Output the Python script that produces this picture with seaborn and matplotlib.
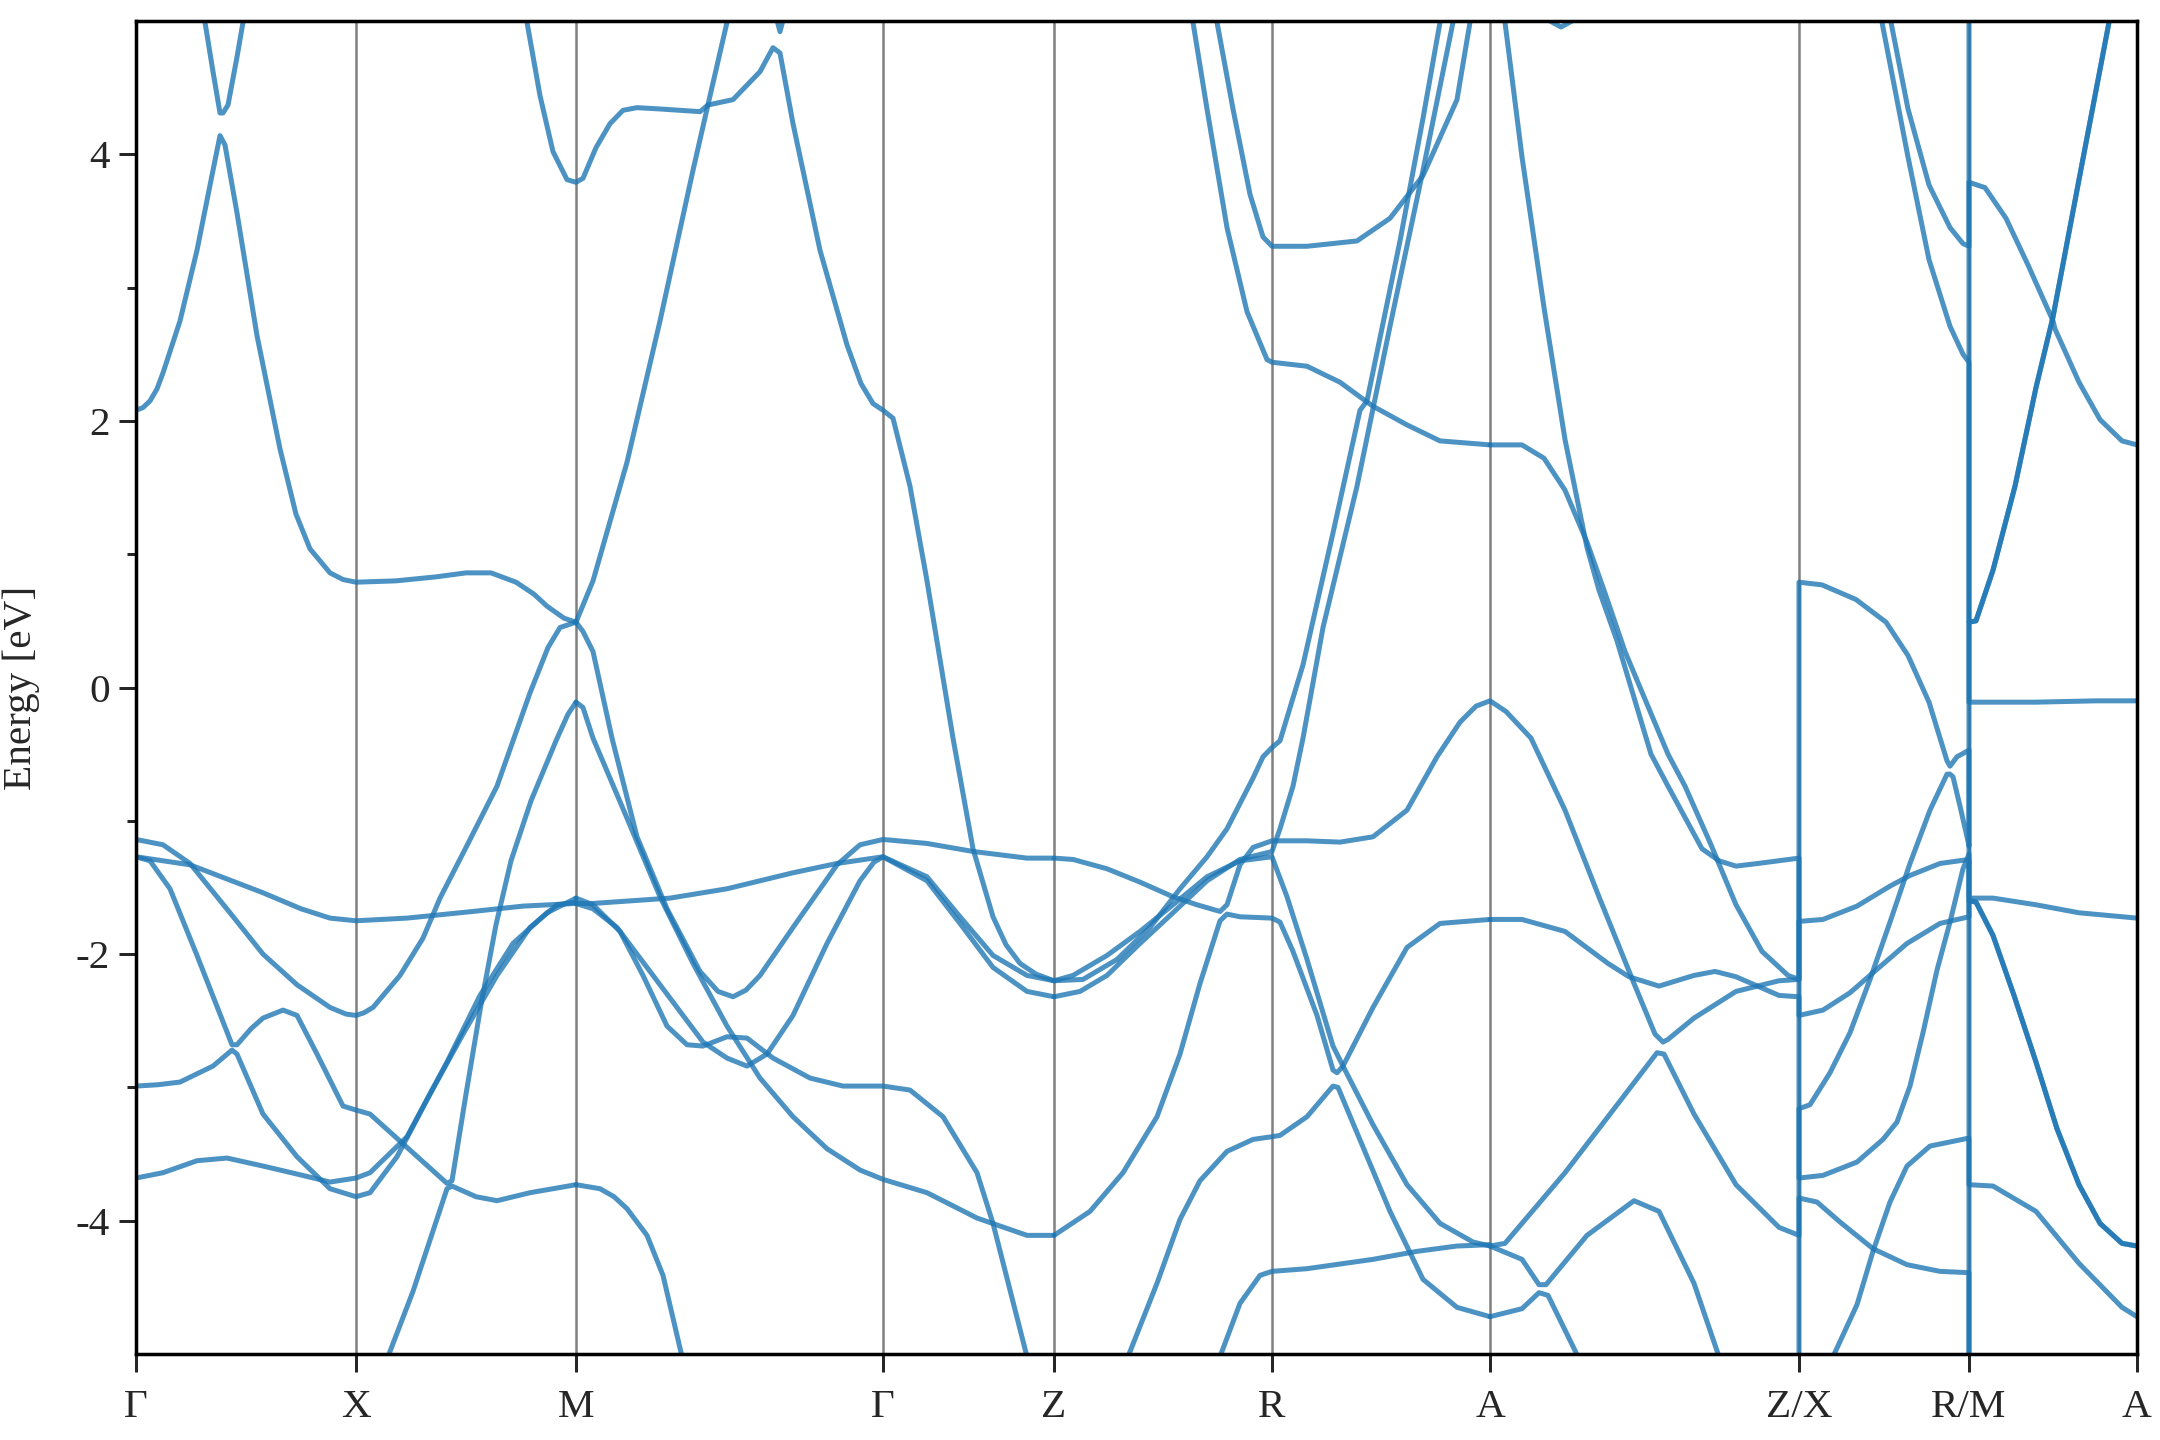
import matplotlib
matplotlib.use("Agg")
import matplotlib.pyplot as plt
import seaborn as sns
import pandas as pd
from matplotlib.ticker import FixedLocator

# high-symmetry points along the k-path (path length, arbitrary units)
kpath_pos = [0, 220, 440, 747, 918, 1136, 1354, 1663, 1833, 2001]
kpath_labels = ['Γ', 'X', 'M', 'Γ', 'Z', 'R', 'A', 'Z/X', 'R/M', 'A']

# band pieces: (k, energy in eV)
# Γ - X - M
gx_v = [(62, 5.3), (69, 4.99), (77, 4.62), (84, 4.31), (87, 4.31), (92, 4.37), (101, 4.73), (107, 4.99), (114, 5.3)]
gx_h = [(0, 2.08), (7, 2.10), (14, 2.15), (21, 2.24), (27, 2.36), (44, 2.75), (61, 3.28), (77, 3.88), (84, 4.14),
        (89, 4.07), (101, 3.56), (121, 2.64), (144, 1.79), (160, 1.30), (174, 1.04), (194, 0.86), (207, 0.81),
        (220, 0.79), (260, 0.80), (300, 0.83), (330, 0.86), (355, 0.86), (380, 0.79), (398, 0.70), (411, 0.61),
        (428, 0.52), (440, 0.49)]
gx_b = [(0, -1.14), (27, -1.18), (54, -1.32), (94, -1.69), (127, -2.00), (161, -2.23), (194, -2.40), (210, -2.45),
        (220, -2.46), (228, -2.44), (237, -2.40), (264, -2.16), (287, -1.88), (304, -1.58), (330, -1.20),
        (361, -0.74), (394, -0.04), (412, 0.30), (424, 0.45), (440, 0.49)]
gx_a = [(0, -1.27), (54, -1.33), (127, -1.54), (165, -1.66), (194, -1.73), (220, -1.75), (271, -1.73), (337, -1.68),
        (387, -1.64), (440, -1.62)]
gx_c = [(0, -1.27), (14, -1.30), (34, -1.51), (61, -2.01), (96, -2.68), (101, -2.68), (115, -2.56), (127, -2.48),
        (147, -2.42), (161, -2.46), (181, -2.75), (207, -3.14), (220, -3.17), (234, -3.20), (271, -3.45),
        (311, -3.72), (316, -3.70), (330, -3.05), (345, -2.38), (360, -1.78), (375, -1.30), (395, -0.85),
        (420, -0.40), (432, -0.20), (440, -0.11)]
gx_d = [(0, -2.99), (22, -2.98), (44, -2.96), (77, -2.84), (96, -2.72), (101, -2.75), (127, -3.20), (161, -3.52),
        (194, -3.76), (220, -3.82), (234, -3.79), (261, -3.52), (294, -3.05), (327, -2.60), (361, -2.16),
        (394, -1.80), (421, -1.63), (440, -1.61)]
gx_e = [(0, -3.68), (27, -3.64), (61, -3.55), (91, -3.53), (127, -3.59), (161, -3.65), (194, -3.71), (220, -3.68),
        (234, -3.64), (271, -3.37), (311, -2.81), (344, -2.31), (377, -1.92), (411, -1.69), (440, -1.58)]
gx_f = [(246, -5.3), (252, -5.02), (277, -4.53), (311, -3.76), (316, -3.74), (340, -3.82), (361, -3.85),
        (394, -3.79), (440, -3.73)]

# M - Γ - Z
mz_j = [(384, 5.3), (391, 4.99), (404, 4.44), (417, 4.02), (431, 3.81), (440, 3.79), (447, 3.82), (460, 4.05),
        (474, 4.23), (487, 4.33), (501, 4.35), (524, 4.34), (564, 4.32), (572, 4.37), (597, 4.41), (624, 4.62),
        (637, 4.80), (644, 4.76), (657, 4.23), (684, 3.28), (711, 2.57), (725, 2.28), (737, 2.13), (747, 2.08),
        (757, 2.02), (774, 1.51), (791, 0.80), (817, -0.38), (837, -1.21), (857, -1.72), (870, -1.93),
        (884, -2.07), (900, -2.15), (918, -2.20)]
mz_k = [(440, 0.49), (457, 0.80), (491, 1.69), (524, 2.75), (557, 3.88), (571, 4.34), (591, 4.99), (600, 5.3)]
mz_v = [(636, 5.15), (644, 4.92), (652, 5.15)]
mz_1 = [(440, -0.11), (447, -0.15), (457, -0.38), (491, -0.98), (524, -1.57), (557, -2.07), (591, -2.54),
        (624, -2.93), (657, -3.22), (691, -3.46), (724, -3.62), (747, -3.69), (791, -3.79), (841, -3.98),
        (891, -4.11), (918, -4.11)]
mz_2 = [(440, 0.49), (447, 0.42), (457, 0.27), (476, -0.38), (501, -1.12), (531, -1.66), (564, -2.13), (582, -2.28),
        (597, -2.32), (610, -2.27), (624, -2.16), (657, -1.80), (701, -1.33), (724, -1.18), (747, -1.14),
        (791, -1.17), (837, -1.23), (891, -1.28), (918, -1.28)]
mz_3 = [(440, -1.58), (457, -1.63), (484, -1.83), (507, -2.16), (531, -2.54), (551, -2.68), (567, -2.69),
        (591, -2.62), (611, -2.63), (637, -2.78), (674, -2.93), (707, -2.99), (747, -2.99), (774, -3.02),
        (807, -3.22), (841, -3.64), (857, -4.02), (891, -5.02), (895, -5.3)]
mz_4 = [(440, -1.62), (457, -1.66), (481, -1.80), (511, -2.10), (541, -2.40), (567, -2.66), (591, -2.78),
        (611, -2.84), (631, -2.75), (657, -2.46), (691, -1.92), (724, -1.45), (738, -1.31), (747, -1.27),
        (791, -1.42), (824, -1.72), (857, -2.01), (891, -2.16), (918, -2.20)]
mz_5 = [(440, -1.62), (457, -1.62), (534, -1.58), (591, -1.51), (657, -1.39), (701, -1.32), (747, -1.27),
        (791, -1.45), (824, -1.77), (857, -2.10), (891, -2.28), (918, -2.32)]
mz_f = [(440, -3.73), (464, -3.76), (478, -3.82), (491, -3.91), (511, -4.11), (527, -4.41), (546, -5.02),
        (549, -5.3)]

# Z - R - A
za_1 = [(918, -2.20), (947, -2.19), (981, -2.04), (1014, -1.80), (1044, -1.51), (1071, -1.27), (1091, -1.06),
        (1104, -0.87), (1117, -0.68), (1127, -0.52), (1136, -0.45), (1144, -0.40), (1167, 0.17), (1197, 1.16),
        (1224, 2.08), (1231, 2.15), (1264, 3.35), (1287, 4.27), (1304, 4.99), (1312, 5.3)]
za_2 = [(918, -1.28), (937, -1.29), (971, -1.36), (1004, -1.46), (1037, -1.57), (1061, -1.63), (1084, -1.68),
        (1091, -1.63), (1104, -1.33), (1117, -1.20), (1136, -1.15), (1171, -1.15), (1204, -1.16), (1237, -1.12),
        (1271, -0.92), (1301, -0.52), (1324, -0.26), (1340, -0.14), (1354, -0.10)]
za_3 = [(918, -4.11), (954, -3.93), (987, -3.64), (1021, -3.22), (1044, -2.75), (1064, -2.22), (1084, -1.75),
        (1091, -1.70), (1104, -1.72), (1136, -1.73), (1144, -1.76), (1157, -1.98), (1181, -2.46), (1197, -2.87),
        (1201, -2.89), (1207, -2.84), (1237, -2.40), (1271, -1.95), (1304, -1.77), (1354, -1.74)]
za_4 = [(918, -2.20), (937, -2.16), (971, -2.01), (1004, -1.83), (1037, -1.63), (1071, -1.42), (1104, -1.30),
        (1136, -1.27), (1151, -1.57), (1171, -2.04), (1197, -2.69), (1207, -2.84), (1237, -3.28), (1271, -3.73),
        (1304, -4.02), (1337, -4.16), (1354, -4.19)]
za_5 = [(918, -2.32), (944, -2.28), (971, -2.16), (1004, -1.92), (1037, -1.69), (1071, -1.45), (1104, -1.29),
        (1136, -1.23), (1144, -1.06), (1157, -0.74), (1167, -0.38), (1187, 0.45), (1221, 1.51), (1254, 2.71),
        (1287, 3.88), (1317, 4.99), (1325, 5.3)]
za_6 = [(985, -5.3), (992, -5.02), (1021, -4.47), (1044, -3.99), (1064, -3.70), (1091, -3.48), (1117, -3.39),
        (1136, -3.37), (1144, -3.36), (1171, -3.22), (1197, -2.99), (1202, -3.00), (1221, -3.34), (1254, -3.93),
        (1287, -4.44), (1321, -4.65), (1354, -4.72)]
za_7 = [(1080, -5.3), (1084, -5.02), (1104, -4.62), (1124, -4.41), (1136, -4.38), (1171, -4.36), (1237, -4.29),
        (1281, -4.23), (1321, -4.19), (1354, -4.18)]
za_8 = [(1073, 5.3), (1081, 4.99), (1097, 4.34), (1114, 3.70), (1127, 3.38), (1136, 3.31), (1171, 3.31),
        (1221, 3.35), (1254, 3.52), (1287, 3.84), (1321, 4.41), (1334, 4.99), (1338, 5.3)]
za_9 = [(1050, 5.3), (1057, 4.99), (1071, 4.34), (1091, 3.45), (1111, 2.82), (1131, 2.46), (1136, 2.44),
        (1171, 2.41), (1204, 2.29), (1224, 2.18), (1237, 2.11), (1271, 1.97), (1304, 1.85), (1354, 1.82)]

# A - Z
az_1 = [(1354, -0.10), (1370, -0.18), (1395, -0.38), (1429, -0.92), (1463, -1.57), (1498, -2.22), (1519, -2.60),
        (1527, -2.66), (1532, -2.64), (1558, -2.48), (1600, -2.28), (1643, -2.20), (1663, -2.19)]
az_2 = [(1354, -1.74), (1386, -1.74), (1429, -1.83), (1472, -2.07), (1493, -2.17), (1523, -2.24), (1558, -2.16),
        (1579, -2.13), (1600, -2.17), (1643, -2.31), (1663, -2.32)]
az_3 = [(1354, -4.19), (1369, -4.17), (1386, -4.02), (1429, -3.64), (1472, -3.22), (1521, -2.74), (1528, -2.75),
        (1558, -3.20), (1600, -3.73), (1643, -4.05), (1663, -4.11)]
az_4 = [(1354, -4.19), (1386, -4.29), (1403, -4.48), (1410, -4.48), (1451, -4.11), (1498, -3.85), (1523, -3.93),
        (1558, -4.47), (1583, -5.02), (1590, -5.3)]
az_5 = [(1354, -4.72), (1386, -4.66), (1403, -4.54), (1412, -4.56), (1442, -5.02), (1450, -5.3)]
az_6 = [(1354, 1.82), (1386, 1.82), (1408, 1.72), (1429, 1.48), (1451, 1.09), (1468, 0.73), (1489, 0.27),
        (1532, -0.50), (1549, -0.74), (1575, -1.18), (1600, -1.63), (1626, -1.98), (1652, -2.16), (1663, -2.19)]
az_7 = [(1364, 5.3), (1369, 4.99), (1386, 3.98), (1408, 2.85), (1429, 1.86), (1451, 1.05), (1463, 0.73),
        (1481, 0.35), (1515, -0.50), (1532, -0.74), (1566, -1.21), (1583, -1.30), (1600, -1.34), (1622, -1.32),
        (1663, -1.28)]
az_u = [(1408, 5.1), (1414, 5.0), (1425, 4.955), (1436, 5.0), (1442, 5.1)]

# X - R
xr_0 = [(1663, 0.79), (1686, 0.77), (1720, 0.66), (1750, 0.49), (1772, 0.24), (1793, -0.11), (1811, -0.55),
        (1814, -0.59), (1821, -0.52), (1833, -0.47)]
xr_1 = [(1663, -1.755), (1687, -1.74), (1721, -1.64), (1754, -1.49), (1774, -1.41), (1804, -1.32), (1833, -1.29)]
xr_2 = [(1663, -2.46), (1687, -2.42), (1714, -2.29), (1737, -2.14), (1771, -1.92), (1804, -1.77), (1833, -1.72)]
xr_3 = [(1663, -3.16), (1674, -3.13), (1694, -2.89), (1714, -2.59), (1734, -2.19), (1754, -1.76), (1774, -1.32),
        (1794, -0.92), (1811, -0.65), (1814, -0.65), (1817, -0.67), (1824, -0.89), (1831, -1.12), (1833, -1.19)]
xr_4 = [(1663, -3.68), (1687, -3.66), (1721, -3.56), (1747, -3.39), (1761, -3.26), (1774, -2.99), (1787, -2.59),
        (1801, -2.12), (1814, -1.76), (1827, -1.36), (1833, -1.25)]
xr_5 = [(1663, -3.83), (1681, -3.86), (1704, -4.01), (1737, -4.21), (1771, -4.33), (1804, -4.38), (1833, -4.39)]
xr_6 = [(1692, -5.3), (1697, -5.02), (1721, -4.63), (1737, -4.23), (1754, -3.86), (1771, -3.59), (1794, -3.44),
        (1833, -3.38)]
xr_t1 = [(1750, 5.3), (1755, 4.99), (1772, 4.34), (1793, 3.77), (1814, 3.45), (1827, 3.33), (1833, 3.31)]
xr_t2 = [(1742, 5.3), (1746, 4.99), (1772, 3.98), (1793, 3.21), (1814, 2.71), (1827, 2.50), (1833, 2.44)]

# M - A
ma_top = [(1833, 3.79), (1849, 3.75), (1870, 3.52), (1892, 3.17), (1917, 2.75), (1919, 2.69), (1943, 2.29),
          (1964, 2.01), (1986, 1.85), (2001, 1.82)]
ma_steep = [(1833, 0.49), (1840, 0.50), (1857, 0.88), (1879, 1.51), (1900, 2.25), (1917, 2.78), (1943, 3.81),
            (1973, 4.99), (1980, 5.3)]
ma_flat = [(1833, -0.11), (1900, -0.11), (1960, -0.10), (2001, -0.10)]
ma_mid = [(1833, -1.58), (1857, -1.58), (1900, -1.63), (1943, -1.69), (2001, -1.73)]
ma_dn = [(1833, -1.60), (1840, -1.61), (1857, -1.86), (1878, -2.31), (1900, -2.81), (1921, -3.31), (1943, -3.73),
         (1964, -4.02), (1986, -4.17), (2001, -4.19)]
ma_low = [(1833, -3.73), (1857, -3.74), (1900, -3.93), (1943, -4.32), (1986, -4.65), (2001, -4.72)]

# band values just outside the window at the two path breaks
zx_below = [(1663, -5.3)]
rm_below = [(1833, -5.3)]
rm_above = [(1833, 5.3)]

# bands joined across the Z|X and R|M breaks (gives the vertical jumps)
bands = [
    gx_v, gx_h, gx_b, gx_a, gx_c, gx_d, gx_e, gx_f,
    mz_j, mz_k, mz_v, mz_1, mz_2, mz_3, mz_4, mz_5, mz_f,
    za_1, za_3, za_4, za_5, za_6, za_7, za_8, za_9, az_u,
    za_2 + az_1 + xr_0 + ma_mid,
    az_7 + xr_4 + ma_low,
    az_6 + xr_1 + ma_dn,
    az_2 + xr_2 + ma_dn,
    az_3 + xr_3 + ma_steep,
    az_4 + zx_below + xr_5 + rm_below,
    az_5 + xr_6 + rm_below,
    xr_t1 + ma_top,
    xr_t2 + ma_flat,
    rm_above + ma_steep,
]

rows = []
for i, band in enumerate(bands):
    for k, e in band:
        rows.append((i, k, e))
df = pd.DataFrame(rows, columns=['band', 'k', 'energy'])

sns.set_style("ticks")
plt.rcParams['font.family'] = ['Liberation Serif', 'DejaVu Serif']
plt.rcParams['axes.unicode_minus'] = False

fig = plt.figure(figsize=(12, 8), dpi=180)
ax = fig.add_axes([136 / 2160, 1 - 1354 / 1440, (2137 - 136) / 2160, (1354 - 21) / 1440])

for k in kpath_pos[1:-1]:
    ax.axvline(k, color='0.5', lw=1.0, zorder=0)

sns.lineplot(data=df, x='k', y='energy', units='band', estimator=None, sort=False,
             color='tab:blue', alpha=0.8, lw=2.0, legend=False, ax=ax)

ax.set_xlim(kpath_pos[0], kpath_pos[-1])
ax.set_ylim(-5, 5)
ax.set_xticks(kpath_pos)
ax.set_xticklabels(kpath_labels)
ax.set_yticks([-4, -2, 0, 2, 4])
ax.yaxis.set_minor_locator(FixedLocator([-3, -1, 1, 3]))
ax.set_xlabel('')
ax.set_ylabel('Energy [eV]', fontsize=16.5, labelpad=14)
ax.tick_params(which='major', direction='out', length=7, width=1.2, labelsize=16.5, top=False, right=False)
ax.tick_params(which='minor', direction='out', length=3.5, width=1.2, top=False, right=False)
ax.tick_params(axis='x', pad=7)
for s in ax.spines.values():
    s.set_visible(True)
    s.set_linewidth(1.4)
    s.set_color('black')

fig.savefig('out.png', dpi=180)
